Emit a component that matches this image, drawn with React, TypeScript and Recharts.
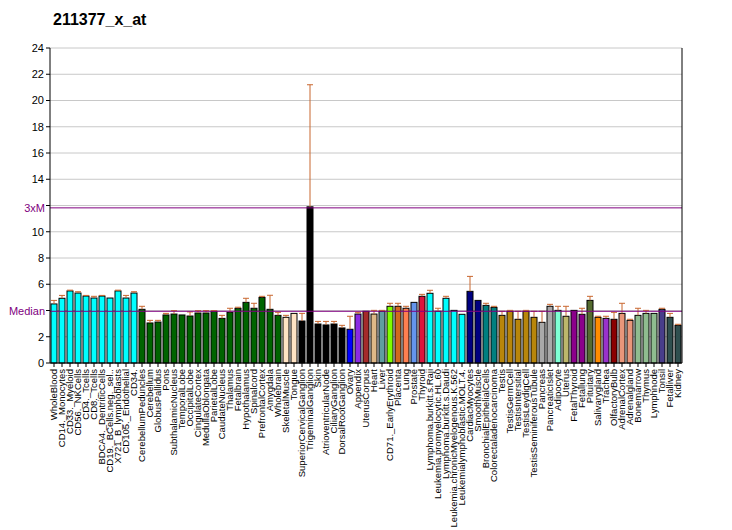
import React from "react"
import {
  BarChart,
  Bar,
  XAxis,
  YAxis,
  CartesianGrid,
  ReferenceLine,
  Cell,
} from "recharts"

const tissues = [
  "WholeBlood", "CD14._Monocytes", "CD33._Myeloid", "CD56._NKCells", "CD4._Tcells", "CD8._Tcells",
  "BDCA4._DentriticCells", "CD19._BCells.neg._sel..", "X721_B_lymphoblasts", "CD105._Endothelial", "CD34.",
  "CerebellumPeduncles", "Cerebellum", "GlobusPallidus", "Pons", "SubthalamicNucleus", "TemporalLobe",
  "OccipitalLobe", "CingulateCortex", "MedullaOblongata", "ParietalLobe", "CaudateNucleus", "Thalamus",
  "Fetalbrain", "Hypothalamus", "Spinalcord", "PrefrontalCortex", "Amygdala", "Wholebrain",
  "SkeletalMuscle", "Tongue", "SuperiorCervicalGanglion", "TrigeminalGanglion", "Skin",
  "AtrioventricularNode", "CiliaryGanglion", "DorsalRootGanglion", "Ovary", "Appendix", "UterusCorpus",
  "Heart", "Liver", "CD71._EarlyErythroid", "Placenta", "Lung", "Prostate", "Thyroid",
  "Lymphoma.burkitt.s.Raji", "Leukemia.promyelocytic.HL.60", "Lymphoma.burkitt.s.Daudi",
  "Leukemia.chronicMyelogenous.K.562", "Leukemialymphoblastic.MOLT.4.", "CardiacMyocytes", "SmoothMuscle",
  "BronchialEpithelialCells", "Colorectaladenocarcinoma", "Testis", "TestisGermCell", "TestisIntersitial",
  "TestisLeydigCell", "TestisSeminiferousTubule", "Pancreas", "PancreaticIslet", "Adipocyte", "Uterus",
  "FetalThyroid", "Fetallung", "Pituitary", "Salivarygland", "Trachea", "OlfactoryBulb", "AdrenalCortex",
  "Adrenalgland", "Bonemarrow", "Thymus", "Lymphnode", "Tonsil", "Fetalliver", "Kidney",
]

const values = [
  4.5, 4.93, 5.49, 5.33, 5.1, 4.95, 5.1, 4.95, 5.49, 4.95, 5.33,
  4.09, 3.05, 3.12, 3.66, 3.73, 3.66, 3.58, 3.81, 3.81, 3.94,
  3.4, 3.86, 4.17, 4.62, 4.17, 5.0, 4.09, 3.63, 3.48, 3.78,
  3.2, 11.9, 2.97, 2.9, 2.97, 2.67, 2.57, 3.73, 3.94, 3.73,
  3.94, 4.32, 4.32, 4.17, 4.62, 5.08, 5.31, 3.94, 4.93, 4.01,
  3.71, 5.46, 4.77, 4.39, 4.24, 3.63, 3.94, 3.33, 3.94, 3.48,
  3.1, 4.32, 4.01, 3.56, 4.01, 3.71, 4.77, 3.48, 3.4, 3.33,
  3.78, 3.25, 3.63, 3.78, 3.78, 4.09, 3.48, 2.87,
]

// top of the error whisker (same as value when there is none)
const errorTops = [
  4.77, 5.15, 5.55, 5.43, 5.15, 5.08, 5.15, 4.95, 5.55, 5.15, 5.43,
  4.32, 3.25, 3.25, 3.78, 3.99, 3.66, 3.89, 3.99, 3.99, 3.99,
  3.63, 4.17, 4.25, 4.93, 4.55, 5.08, 5.16, 3.86, 3.63, 3.78,
  3.78, 21.2, 3.17, 3.17, 3.17, 2.87, 3.56, 3.86, 3.94, 4.01,
  4.01, 4.55, 4.55, 4.32, 4.62, 5.23, 5.54, 4.17, 5.08, 4.01,
  3.71, 6.6, 4.77, 4.55, 4.32, 3.94, 4.01, 3.94, 4.01, 3.94,
  3.94, 4.47, 4.32, 4.32, 4.01, 4.17, 5.08, 3.56, 3.56, 3.86,
  4.55, 3.33, 4.17, 4.01, 3.78, 4.17, 3.78, 2.95,
]

// [number of bars, colour] in order
const colourGroups: Array<[number, string]> = [
  [11, "#00FFFF"], [18, "#006400"], [2, "#FFE4C4"], [6, "#000000"], [1, "#0000FF"],
  [1, "#8A2BE2"], [1, "#A52A2A"], [1, "#DEB887"], [1, "#5F9EA0"], [1, "#7FFF00"],
  [1, "#D2691E"], [1, "#FF7F50"], [1, "#6495ED"], [1, "#DC143C"], [5, "#00FFFF"],
  [2, "#000080"], [2, "#008080"], [5, "#B8860B"], [2, "#A9A9A9"], [1, "#7FFFD4"],
  [1, "#BDB76B"], [2, "#8B008B"], [1, "#556B2F"], [1, "#FF8C00"], [1, "#9932CC"],
  [1, "#8B0000"], [2, "#E9967A"], [3, "#8FBC8F"], [1, "#483D8B"], [2, "#2F4F4F"],
]

const yTicks = [0, 2, 4, 6, 8, 10, 12, 14, 16, 18, 20, 22, 24]
const median = 3.94
const threeXM = 11.82

const colours = colourGroups.flatMap(([n, c]) => Array(n).fill(c))
const data = tissues.map((name, i) => ({ name, value: values[i], top: errorTops[i] }))

const FONT = "'Liberation Sans', Arial, sans-serif"
const PURPLE = "#800080"
const ERR = "#C8662E"

const BarWithError = (props: any) => {
  const { x, y, width, height, fill, payload } = props
  const ppu = height / payload.value
  const cx = x + width / 2
  const ey = y - (payload.top - payload.value) * ppu
  return (
    <g>
      <rect x={x} y={y} width={width} height={height} fill={fill} stroke="#000" strokeWidth={1} />
      {payload.top > payload.value && (
        <g stroke={ERR} strokeWidth={1}>
          <line x1={cx} y1={y} x2={cx} y2={ey} />
          <line x1={cx - 3} y1={ey} x2={cx + 3} y2={ey} />
        </g>
      )}
    </g>
  )
}

const LeftTick = (props: any) => {
  const { x, y, payload } = props
  if (payload.value === 4 || payload.value === 12) return null
  return (
    <text x={x} y={y} dy="0.35em" textAnchor="end" fontSize={11} fontFamily={FONT} fill="#000">
      {payload.value}
    </text>
  )
}

const RightTick = (props: any) => {
  const { x, y, payload } = props
  return (
    <text x={x} y={y} dy="0.35em" textAnchor="start" fontSize={11} fontFamily={FONT} fill="#000">
      {payload.value}
    </text>
  )
}

const XTick = (props: any) => {
  const { x, y, payload } = props
  return (
    <text
      transform={`translate(${x},${y}) rotate(-90)`}
      dy="0.35em"
      textAnchor="end"
      fontSize={9.5}
      fontFamily={FONT}
      fill="#000"
    >
      {payload.value}
    </text>
  )
}

export default function App() {
  return (
    <div style={{ position: "absolute", left: 0, top: 0, width: 732, height: 530, background: "#fff" }}>
      <div
        style={{
          position: "absolute",
          left: 53,
          top: 11,
          fontFamily: FONT,
          fontWeight: "bold",
          fontSize: 16,
          color: "#000",
        }}
      >
        211377_x_at
      </div>
      <BarChart
        width={732}
        height={530}
        data={data}
        margin={{ top: 48, right: 0, bottom: 0, left: 0 }}
        barSize={6}
      >
        <CartesianGrid vertical={false} stroke="#C8C8C8" strokeWidth={1} />
        <XAxis
          dataKey="name"
          interval={0}
          height={167}
          tick={<XTick />}
          tickSize={4}
          tickLine={{ stroke: "#000" }}
          axisLine={{ stroke: "#000" }}
        />
        <YAxis
          domain={[0, 24]}
          ticks={yTicks}
          width={50}
          tickSize={4}
          tick={<LeftTick />}
          tickLine={{ stroke: "#000" }}
          axisLine={{ stroke: "#000" }}
        />
        <YAxis
          yAxisId="r"
          orientation="right"
          domain={[0, 24]}
          ticks={yTicks}
          width={50}
          tickSize={4}
          tick={<RightTick />}
          tickLine={{ stroke: "#000" }}
          axisLine={{ stroke: "#000" }}
        />
        <Bar dataKey="value" shape={<BarWithError />} isAnimationActive={false}>
          {data.map((_, i) => (
            <Cell key={`c-${i}`} fill={colours[i]} />
          ))}
        </Bar>
        <ReferenceLine
          y={median}
          stroke={PURPLE}
          strokeWidth={1}
          label={{ value: "Median", position: "left", fill: PURPLE, fontSize: 11, fontFamily: FONT }}
        />
        <ReferenceLine
          y={threeXM}
          stroke={PURPLE}
          strokeWidth={1}
          label={{ value: "3xM", position: "left", fill: PURPLE, fontSize: 11, fontFamily: FONT }}
        />
      </BarChart>
    </div>
  )
}
